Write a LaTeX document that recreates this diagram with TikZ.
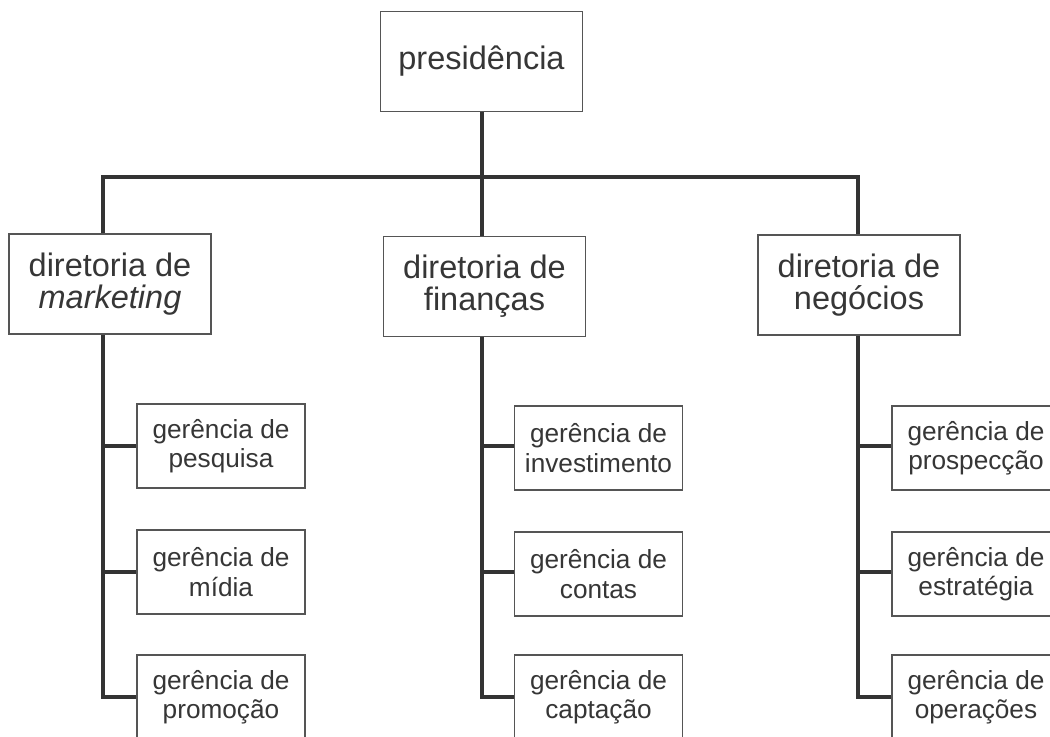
\documentclass[tikz,border=0pt]{standalone}
\usepackage{fontspec}
\setmainfont{Liberation Sans}

\definecolor{linegray}{HTML}{333333}
\definecolor{boxgray}{HTML}{555555}
\definecolor{textgray}{HTML}{363636}

\tikzset{
  unit/.style={draw=boxgray, line width=0.7pt, fill=white, text=textgray, align=center, inner sep=0pt},
  topbox/.style={unit, minimum width=101pt, minimum height=50pt, font=\fontsize{16.25}{16}\selectfont},
  subbox/.style={unit, minimum width=84pt, minimum height=42pt, font=\fontsize{13.1}{14.7}\selectfont},
  link/.style={draw=linegray, line width=2pt, line join=miter},
}

\begin{document}
\begin{tikzpicture}[x=0.5pt, y=-0.5pt]
    \useasboundingbox (0,0) rectangle (1050,736);
    \clip (0,0) rectangle (1050,736);
    % top
    \node[topbox] (pres) at (481.5, 61.5) {presidência};
    % directorates
    \node[topbox] (dmkt) at (110, 284) {diretoria de\\\textit{marketing}};
    \node[topbox] (dfin) at (484.5, 286.5) {diretoria de\\finanças};
    \node[topbox] (dneg) at (859, 285) {diretoria de\\negócios};
    % managers
    \node[subbox] (gpesq) at (221, 446) {gerência de\\pesquisa};
    \node[subbox] (gmid)  at (221, 572) {gerência de\\mídia};
    \node[subbox] (gprom) at (221, 697) {gerência de\\promoção};
    \node[subbox] (ginv)  at (598.5, 448) {gerência de\\investimento};
    \node[subbox] (gcont) at (598.5, 574) {gerência de\\contas};
    \node[subbox] (gcapt) at (598.5, 697) {gerência de\\captação};
    \node[subbox] (gprosp) at (976, 448) {gerência de\\prospecção};
    \node[subbox] (gestr)  at (976, 574) {gerência de\\estratégia};
    \node[subbox] (goper)  at (976, 697) {gerência de\\operações};
    % bar
    \coordinate (barl) at (103, 177);
    \coordinate (barm) at (482, 177);
    \coordinate (barr) at (858, 177);
    \draw[link] (barl |- dmkt.north) -- (barl) -- (barr) -- (barr |- dneg.north);
    \draw[link] (barm |- pres.south) -- (barm |- dfin.north);
    % spines
    \draw[link] (barl |- dmkt.south) -- (barl |- gprom) -- (gprom.west);
    \draw[link] (barl |- gpesq) -- (gpesq.west);
    \draw[link] (barl |- gmid) -- (gmid.west);
    \draw[link] (barm |- dfin.south) -- (barm |- gcapt) -- (gcapt.west);
    \draw[link] (barm |- 0,446) -- (ginv.west |- 0,446);
    \draw[link] (barm |- 0,572) -- (gcont.west |- 0,572);
    \draw[link] (barr |- dneg.south) -- (barr |- goper) -- (goper.west);
    \draw[link] (barr |- 0,446) -- (gprosp.west |- 0,446);
    \draw[link] (barr |- 0,572) -- (gestr.west |- 0,572);
\end{tikzpicture}
\end{document}
